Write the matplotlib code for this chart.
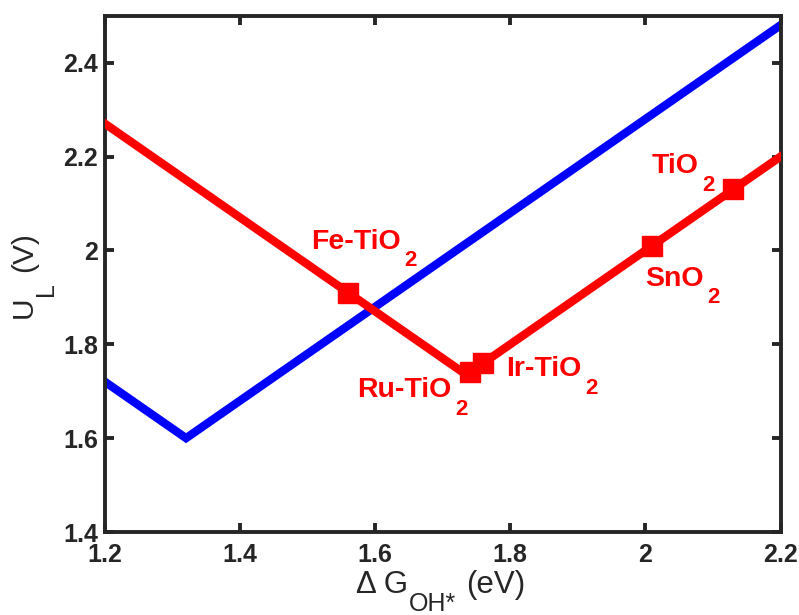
import matplotlib
matplotlib.use("Agg")
import matplotlib.pyplot as plt

plt.rcParams['font.family'] = ['Liberation Sans', 'DejaVu Sans']

# Blue volcano line
blue_x = [1.2, 1.32, 2.2]
blue_y = [1.72, 1.60, 2.48]
# Red volcano line
red_x = [1.2, 1.735, 2.2]
red_y = [2.27, 1.735, 2.2]
# Catalyst points
cat_main = ['Fe-TiO', 'Ru-TiO', 'Ir-TiO', 'SnO', 'TiO']
cat_sub = ['2', '2', '2', '2', '2']
cat_x = [1.56, 1.74, 1.76, 2.01, 2.13]
cat_y = [1.91, 1.74, 1.76, 2.01, 2.13]
label_x = [1.505, 1.573, 1.794, 1.999, 2.009]
label_y = [2.019, 1.702, 1.747, 1.940, 2.180]

xticks = [1.2, 1.4, 1.6, 1.8, 2.0, 2.2]
xticklabels = ['1.2', '1.4', '1.6', '1.8', '2', '2.2']
yticks = [1.4, 1.6, 1.8, 2.0, 2.2, 2.4]
yticklabels = ['1.4', '1.6', '1.8', '2', '2.2', '2.4']

W, H = 799, 615
fig = plt.figure(figsize=(W / 100, H / 100), dpi=100)
L, R, T, B = 105, 780.5, 15.8, 532
ax = fig.add_axes([L / W, 1 - B / H, (R - L) / W, (B - T) / H])

ax.plot(blue_x, blue_y, color='#0000ff', lw=6, solid_joinstyle='miter', zorder=2)
ax.plot(red_x, red_y, color='#ff0000', lw=6, solid_joinstyle='miter', zorder=3)
ax.plot(cat_x, cat_y, 's', color='#ff0000', ms=14, zorder=4, linestyle='none')

for m, s, lx, ly in zip(cat_main, cat_sub, label_x, label_y):
    t = ax.text(lx, ly, m, color='#ff0000', fontsize=20.5, fontweight='bold',
                ha='left', va='center', zorder=5)
    ax.annotate(s, xy=(1, 0), xycoords=t, xytext=(2.5, 3), textcoords='offset points',
                color='#ff0000', fontsize=16, fontweight='bold',
                ha='left', va='top', zorder=5, annotation_clip=False)

ax.set_xlim(1.2, 2.2)
ax.set_ylim(1.4, 2.5)
ax.set_xticks(xticks)
ax.set_xticklabels(xticklabels)
ax.set_yticks(yticks)
ax.set_yticklabels(yticklabels)

axc = '#262626'
for sp in ax.spines.values():
    sp.set_linewidth(2.8)
    sp.set_color(axc)
ax.tick_params(direction='in', length=6.5, width=2.8, color=axc,
               top=True, right=True, labelsize=18, labelcolor=axc)
ax.tick_params(axis='x', pad=8)
ax.tick_params(axis='y', pad=5)
for lab in ax.get_xticklabels() + ax.get_yticklabels():
    lab.set_fontweight('bold')

# x label: "Δ G_OH* (eV)"
xl_main = fig.text(356 / W, 1 - 593 / H, 'Δ G', fontsize=22.5, color=axc,
                   ha='left', va='baseline')
xl_sub = ax.annotate('OH*', xy=(1, 0), xycoords=xl_main, xytext=(0.5, 6),
                     textcoords='offset points', fontsize=18, color=axc,
                     ha='left', va='top', annotation_clip=False)
ax.annotate('(eV)', xy=(1, 0), xycoords=(xl_sub, xl_main), xytext=(7, 0),
            textcoords='offset points', fontsize=22.5, color=axc,
            ha='left', va='bottom', annotation_clip=False)

# y label: "U_L (V)" rotated
yl_main = fig.text(24 / W, 1 - 318 / H, 'U', fontsize=21.5, color=axc,
                   rotation=90, ha='center', va='bottom')
yl_sub = ax.annotate('L', xy=(1, 1), xycoords=yl_main, xytext=(-3, 0),
                     textcoords='offset points', fontsize=18, color=axc,
                     rotation=90, ha='left', va='bottom', annotation_clip=False)
ax.annotate('(V)', xy=(0, 1), xycoords=(yl_main, yl_sub), xytext=(0, 8),
            textcoords='offset points', fontsize=21.5, color=axc,
            rotation=90, ha='left', va='bottom', annotation_clip=False)

fig.savefig('out.png', dpi=100)
